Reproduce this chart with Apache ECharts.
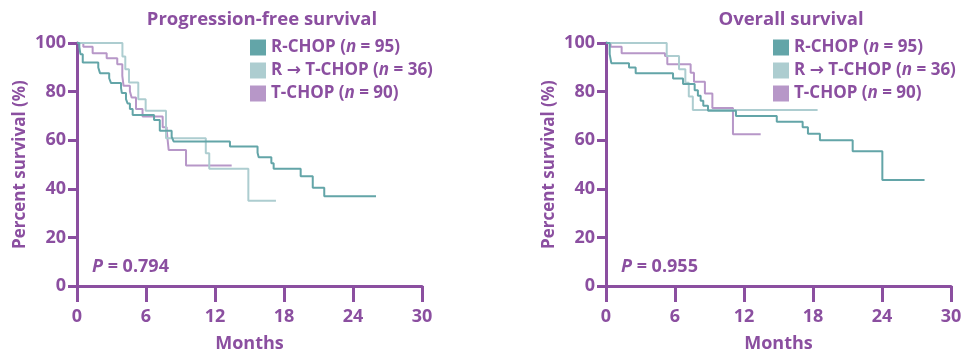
<!DOCTYPE html>
<html>
<head>
<meta charset="utf-8">
<script src="https://cdn.jsdelivr.net/npm/echarts@6/dist/echarts.min.js"></script>
<style>html,body{margin:0;padding:0;background:#fff}#c{width:966px;height:351px}</style>
</head>
<body>
<div id="c"></div>
<script>
const panelTitles = ['Progression-free survival', 'Overall survival'];
const pValues = ['0.794', '0.955'];
const seriesNames = ['R-CHOP', 'R \u2192 T-CHOP', 'T-CHOP'];
const seriesN = [95, 36, 90];
const xTicks = [0, 6, 12, 18, 24, 30];
const yTicks = [0, 20, 40, 60, 80, 100];

// Progression-free survival: [months, % survival]
const pfsRCHOP = [[0,100],[0.2,98.4],[0.3,95.4],[0.5,92],[1.85,89.9],[2.0,87.6],[2.8,85.5],[2.96,83.5],[3.83,81.4],[3.9,79.4],[4.26,76.9],[4.4,75.1],[4.6,72.8],[4.84,70.4],[6.7,68.3],[7.2,63.9],[8.23,61.5],[8.4,59.5],[13.3,57.4],[15.7,54.8],[15.8,53.0],[16.9,50.5],[17.1,48.2],[19.45,45.2],[20.5,40.4],[21.5,36.9],[26.0,36.9]];
const pfsRTCHOP = [[0,100],[3.95,94.4],[4.2,89.2],[4.52,83.7],[5.33,76.9],[5.97,72.1],[7.74,60.8],[11.2,54.6],[11.5,48.2],[14.9,35.1],[17.3,35.1]];
const pfsTCHOP = [[0,100],[0.55,98.5],[1.36,95.8],[2.58,93.7],[3.5,91.3],[3.94,86.5],[4.05,82.4],[4.6,80.1],[4.75,77.6],[5.13,72.8],[5.7,69.8],[7.45,65.3],[7.8,63.9],[7.97,56.0],[9.48,49.6],[13.45,49.6]];

// Overall survival
const osRCHOP = [[0,100],[0.32,95.4],[0.46,91.7],[2.0,89.9],[2.58,87.6],[5.83,85.4],[6.7,83.1],[7.71,80.6],[7.99,78.3],[8.23,76.2],[8.46,74.2],[8.87,72.1],[11.3,70.0],[14.85,67.6],[17.1,65.3],[17.56,62.7],[18.6,60.0],[21.45,55.5],[24.03,43.6],[27.7,43.6]];
const osRTCHOP = [[0,100],[5.28,94.6],[6.35,89.2],[6.9,83.6],[7.2,78.0],[7.55,72.4],[18.4,72.4]];
const osTCHOP = [[0,100],[0.4,98.5],[1.36,95.8],[5.13,94.7],[5.33,91.3],[7.36,87.8],[7.65,84.1],[8.6,79.2],[9.25,73.2],[11.04,62.4],[13.45,62.4]];

const colors = ['#63a5a8', '#adcdd0', '#b797c8'];
const purple = '#8b4fa0';
const font = '"Open Sans", sans-serif';

const chart = echarts.init(document.getElementById('c'), null, {renderer: 'canvas'});

const gridLefts = [77, 606];
const titleCenters = [262, 791];
function xAxis(i) {
  return {
    type: 'value', gridIndex: i, min: 0, max: 30, interval: 6,
    name: 'Months', nameLocation: 'middle', nameGap: 49,
    nameTextStyle: {color: purple, fontSize: 18, fontWeight: 'bold', fontFamily: font},
    axisLine: {show: true, lineStyle: {color: purple, width: 3}},
    axisTick: {show: true, length: 16, lineStyle: {color: purple, width: 3}},
    axisLabel: {color: purple, fontSize: 18, fontWeight: 'bold', fontFamily: font, margin: 22,
      formatter: v => xTicks.includes(v) ? String(v) : ''},
    splitLine: {show: false}
  };
}
function yAxis(i) {
  return {
    type: 'value', gridIndex: i, min: 0, max: 100, interval: 20,
    name: 'Percent survival (%)', nameLocation: 'middle', nameGap: 48,
    nameTextStyle: {color: purple, fontSize: 17, fontWeight: 'bold', fontFamily: font},
    axisLine: {show: true, lineStyle: {color: purple, width: 3}},
    axisTick: {show: true, length: 9, lineStyle: {color: purple, width: 3}},
    axisLabel: {color: purple, fontSize: 18, fontWeight: 'bold', fontFamily: font, margin: 11,
      formatter: v => yTicks.includes(v) ? String(v) : ''},
    splitLine: {show: false}
  };
}
function line(name, data, ci, gi) {
  return {
    name: name, type: 'line', xAxisIndex: gi, yAxisIndex: gi, data: data, step: 'end',
    showSymbol: false, symbol: 'none', color: colors[ci],
    lineStyle: {color: colors[ci], width: 2}, z: 3 - ci
  };
}
const legendRich = {
  i: {fontStyle: 'italic', fontWeight: 'bold', fontSize: 17, color: purple, fontFamily: font},
  a: {fontWeight: 'bold', fontSize: 17, color: purple, fontFamily: '"DejaVu Sans", sans-serif'}
};
function legend(left) {
  return {
    left: left, top: 39, padding: 0, orient: 'vertical', icon: 'rect', itemWidth: 16, itemHeight: 16, itemGap: 6,
    data: seriesNames,
    selectedMode: false,
    textStyle: {color: purple, fontSize: 17, fontWeight: 'bold', fontFamily: font, rich: legendRich},
    formatter: name => name.replace('\u2192', '{a|\u2192}') + ' ({i|n} = ' + seriesN[seriesNames.indexOf(name)] + ')'
  };
}

chart.setOption({
  animation: false,
  backgroundColor: '#fff',
  legend: [legend(250), legend(773)],
  grid: [
    {left: gridLefts[0], top: 43, width: 345, height: 243, outerBoundsMode: 'none', containLabel: false},
    {left: gridLefts[1], top: 43, width: 345, height: 243, outerBoundsMode: 'none', containLabel: false}
  ],
  xAxis: [xAxis(0), xAxis(1)],
  yAxis: [yAxis(0), yAxis(1)],
  graphic: [0, 1].map(i => ({
    type: 'text', left: gridLefts[i] + 15, top: 258,
    style: {
      text: '{p|P} = ' + pValues[i],
      fill: purple, font: 'bold 18px ' + font,
      rich: {p: {fontStyle: 'italic', fontWeight: 'bold', fontSize: 18, fill: purple, fontFamily: font}}
    }
  })).concat([0, 1].map(i => ({
    type: 'text', x: titleCenters[i], y: 20,
    style: {
      text: panelTitles[i], fill: purple, font: 'bold 18.5px ' + font,
      textAlign: 'center', textVerticalAlign: 'middle'
    }
  }))),
  series: [
    line(seriesNames[0], pfsRCHOP, 0, 0),
    line(seriesNames[1], pfsRTCHOP, 1, 0),
    line(seriesNames[2], pfsTCHOP, 2, 0),
    line(seriesNames[0], osRCHOP, 0, 1),
    line(seriesNames[1], osRTCHOP, 1, 1),
    line(seriesNames[2], osTCHOP, 2, 1)
  ]
});
</script>
</body>
</html>
